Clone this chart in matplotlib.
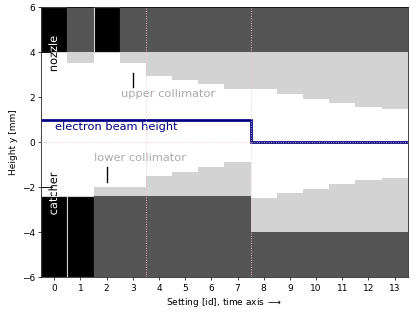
import numpy as np
import matplotlib
matplotlib.use("Agg")
import matplotlib.pyplot as plt
from matplotlib.patches import Rectangle, PathPatch
from matplotlib.textpath import TextPath
from matplotlib.transforms import Affine2D, ScaledTranslation

settings = np.arange(14)

# nozzle (top, 4..6 mm) and catcher (bottom) per setting
nozzle_colors = ["black", "#555555", "black"] + ["#555555"] * 11
catcher_colors = ["black", "black"] + ["#555555"] * 12
nozzle_bottom = 4.0
catcher_top = [-2.4] * 8 + [-4.0] * 6

# collimator edges [mm]
upper_coll = [4.0, 3.5, 4.0, 3.5, 2.95, 2.76, 2.58, 2.36, 2.36, 2.13, 1.94, 1.75, 1.56, 1.47]
lower_coll = [-2.4, -2.4, -2.0, -2.0, -1.5, -1.31, -1.08, -0.89, -2.49, -2.27, -2.08, -1.87, -1.68, -1.58]

# beam height per setting
beam = [1.0] * 8 + [0.0] * 6

fig = plt.figure(figsize=(6.4, 4.8), dpi=65)
ax = fig.add_axes([0.099, 0.111, 0.881, 0.866])
ax.set_xlim(-0.5, 13.5)
ax.set_ylim(-6, 6)

for i in settings:
    ec = "lightgray" if nozzle_colors[i] == "black" else nozzle_colors[i]
    ax.bar(i, 6 - nozzle_bottom, bottom=nozzle_bottom, width=1, color=nozzle_colors[i],
           edgecolor=ec, linewidth=1.2 if ec == "lightgray" else 0)
    ax.bar(i, nozzle_bottom - upper_coll[i], bottom=upper_coll[i], width=1,
           color="lightgray", linewidth=0)
    ec = "lightgray" if catcher_colors[i] == "black" else catcher_colors[i]
    ax.bar(i, catcher_top[i] + 6, bottom=-6, width=1, color=catcher_colors[i],
           edgecolor=ec, linewidth=1.2 if ec == "lightgray" else 0)
    ax.bar(i, lower_coll[i] - catcher_top[i], bottom=catcher_top[i], width=1,
           color="lightgray", linewidth=0)

ax.stairs(beam, np.arange(-0.5, 14), baseline=None, color="navy", lw=3, zorder=4)

for xv in [3.5, 7.5]:
    ax.axvline(xv, color="pink", ls=":", lw=1, zorder=5)
ax.axhline(0, color="pink", ls=":", lw=1, zorder=5)

fs = 12.6


# labels split in two colours: white over the black bars, black elsewhere
def two_tone(x, y, s, split_y, black_above):
    tp = TextPath((0, 0), s, size=fs)
    bb = tp.get_extents()
    cx, cy = (bb.x0 + bb.x1) / 2, (bb.y0 + bb.y1) / 2
    trans = (Affine2D().translate(-cx, -cy).rotate_deg(90).scale(fig.dpi / 72)
             + ScaledTranslation(x, y, ax.transData))
    for col in ["black", "white"]:
        p = PathPatch(tp, transform=trans, facecolor=col, lw=0, zorder=6)
        ax.add_artist(p)
        if (col == "white") == black_above:
            r = Rectangle((-0.5, split_y), 14, 6 - split_y, transform=ax.transData)
        else:
            r = Rectangle((-0.5, -6), 14, split_y + 6, transform=ax.transData)
        p.set_clip_path(r)


two_tone(-0.06, 3.93, "nozzle", 4.0, True)
two_tone(-0.06, -2.28, "catcher", -2.4, False)
ax.plot([-0.5, -0.17], [4, 4], color="black", lw=1, zorder=6)
ax.plot([-0.5, -0.1], [-2, -2], color="black", lw=1, zorder=6)

ax.text(2.53, 2.15, "upper collimator", color="darkgray", fontsize=fs, va="center")
ax.plot([3, 3], [2.47, 3.09], color="black", lw=1.5)
ax.text(1.53, -0.72, "lower collimator", color="darkgray", fontsize=fs, va="center")
ax.plot([2, 2], [-1.08, -1.75], color="black", lw=1.5)
ax.text(0.03, 0.66, "electron beam height", color="navy", fontsize=fs, va="center")

ax.set_xticks(settings)
ax.set_yticks(np.arange(-6, 7, 2))
ax.set_xlabel("Setting [id], time axis $\\longrightarrow$")
ax.set_ylabel("Height y [mm]")

fig.savefig("out.png", dpi=65)
